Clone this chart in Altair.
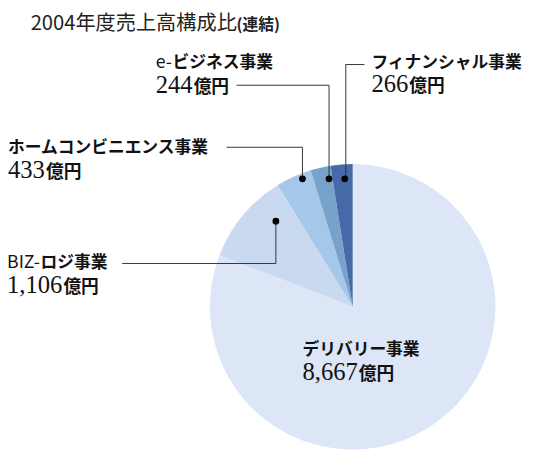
import altair as alt
import pandas as pd

# ---- data ----
categories = ["デリバリー事業", "BIZ-ロジ事業", "ホームコンビニエンス事業", "e-ビジネス事業", "フィナンシャル事業"]
values = [8667, 1106, 433, 244, 266]
value_labels = ["8,667", "1,106", "433", "244", "266"]
unit = "億円"
title_main = "2004年度売上高構成比"
title_sub = "(連結)"

# ---- styles / layout (page px; converted to plot px below) ----
colors = ["#dce6f6", "#c9d9ef", "#a5c8ea", "#79a2cb", "#4669a8"]
OFF = 8
CX, CY, R = 358, 308, 145
JP = "Noto Sans CJK JP"
SERIF = "Liberation Serif"
LBL_FS = 17
NUM_FS = 25
UNIT_FS = 18

# label anchor (left x, label center y), prefix split
label_pos = {
    "デリバリー事業": (307, 352),
    "BIZ-ロジ事業": (7, 264),
    "ホームコンビニエンス事業": (8, 147),
    "e-ビジネス事業": (158, 61),
    "フィナンシャル事業": (377, 60),
}
prefixes = {"BIZ-ロジ事業": ("BIZ-", 34), "e-ビジネス事業": ("e-", 17)}

# leader lines: segments and dots
segments = [
    (240, 83, 334, 83), (334, 83, 334, 178),
    (351, 62, 370, 62), (351, 62, 351, 178),
    (230, 146, 307, 146), (307, 146, 307, 178),
    (124, 264, 280, 264), (280, 264, 280, 221),
]
dots = [(334, 178), (350, 178), (307, 178), (280, 221)]

pie_df = pd.DataFrame({"cat": categories, "value": values, "order": list(range(len(categories)))})

pie = alt.Chart(pie_df).mark_arc(radius=R, x=CX - OFF, y=CY - OFF).encode(
    theta=alt.Theta("value:Q", stack=True),
    order=alt.Order("order:Q"),
    color=alt.Color("cat:N", scale=alt.Scale(domain=categories, range=colors), legend=None),
)

X = lambda f: alt.X(f, scale=None, axis=None)
Y = lambda f: alt.Y(f, scale=None, axis=None)

seg_df = pd.DataFrame([{"x": a - OFF, "y": b - OFF, "x2": c - OFF, "y2": d - OFF} for a, b, c, d in segments])
lines = alt.Chart(seg_df).mark_rule(color="#333333", strokeWidth=1).encode(
    x=X("x:Q"), y=Y("y:Q"), x2="x2:Q", y2="y2:Q"
)
dot_df = pd.DataFrame([{"x": a - OFF, "y": b - OFF} for a, b in dots])
dot_layer = alt.Chart(dot_df).mark_circle(color="#000000", opacity=1, size=48).encode(x=X("x:Q"), y=Y("y:Q"))

def num_width(s, fs):
    w = 0
    for ch in s:
        w += 0.25 * fs if ch == "," else 0.5 * fs
    return w

reg_rows, bold_rows, num_rows, unit_rows = [], [], [], []
for cat, vl in zip(categories, value_labels):
    lx, ly = label_pos[cat]
    if cat in prefixes:
        p, pw = prefixes[cat]
        reg_rows.append({"x": lx - OFF, "y": ly - OFF, "t": p})
        bold_rows.append({"x": lx + pw - OFF, "y": ly - OFF, "t": cat[len(p):]})
    else:
        bold_rows.append({"x": lx - OFF, "y": ly - OFF, "t": cat})
    num_rows.append({"x": lx - OFF, "y": ly + 30 - OFF, "t": vl})
    unit_rows.append({"x": lx + num_width(vl, NUM_FS) + 1 - OFF, "y": ly + 30 - OFF, "t": unit})

def text_layer(rows, color="#111111", **kw):
    return alt.Chart(pd.DataFrame(rows)).mark_text(align="left", color=color, **kw).encode(
        x=X("x:Q"), y=Y("y:Q"), text="t:N"
    )

reg_t = text_layer(reg_rows, font=JP, fontSize=18, fontWeight="normal", baseline="middle")
bold_t = text_layer(bold_rows, font=JP, fontSize=LBL_FS, fontWeight="bold", baseline="middle")
num_t = text_layer(num_rows, font=SERIF, fontSize=NUM_FS, baseline="alphabetic")
unit_t = text_layer(unit_rows, font=JP, fontSize=UNIT_FS, fontWeight="bold", baseline="alphabetic")

title_a = text_layer([{"x": 31 - OFF, "y": 21 - OFF, "t": title_main}], color="#222222", font=JP,
                     fontSize=20.5, fontWeight="normal", baseline="middle")
title_b = text_layer([{"x": 240 - OFF, "y": 22 - OFF, "t": title_sub}], color="#222222", font=JP,
                     fontSize=16, fontWeight="bold", baseline="middle")

chart = alt.layer(pie, lines, dot_layer, reg_t, bold_t, num_t, unit_t, title_a, title_b).properties(
    width=526, height=444, autosize=alt.AutoSizeParams(type="none"), padding=0
).configure_view(stroke=None)

chart.save("out.html", embed_options={"renderer": "svg", "actions": False})
